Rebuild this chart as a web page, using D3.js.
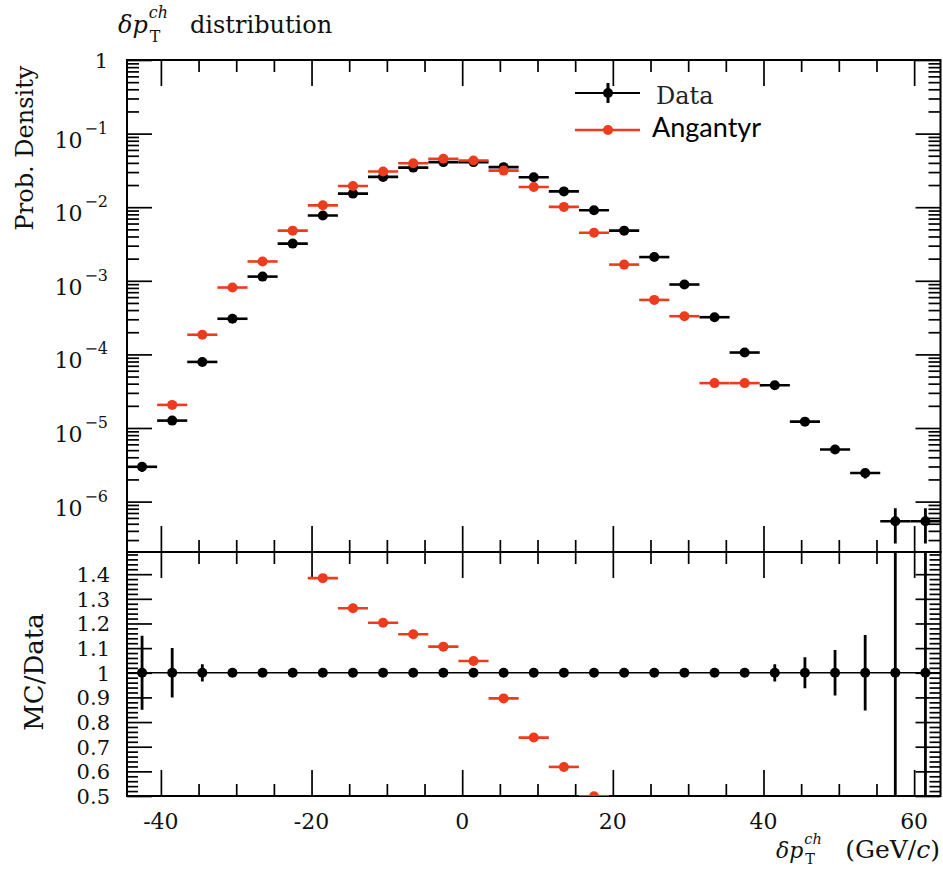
<!DOCTYPE html>
<html><head><meta charset="utf-8">
<script src="https://cdn.jsdelivr.net/npm/d3@7"></script>
<style>body{margin:0;background:#fff} svg{display:block}</style>
</head><body>
<svg id="c" width="943" height="870"></svg>
<script>
// ---------- data ----------
const binCenters = [-42.5,-38.5,-34.5,-30.5,-26.5,-22.5,-18.5,-14.5,-10.5,-6.5,-2.5,1.5,5.5,9.5,13.5,17.5,21.5,25.5,29.5,33.5,37.5,41.5,45.5,49.5,53.5,57.5,61.5];
const binHalfWidth = 2;
const dataValues = [2.97e-6,1.26e-5,7.9e-5,3.05e-4,1.14e-3,3.2e-3,7.7e-3,0.0153,0.0258,0.0345,0.041,0.041,0.035,0.0255,0.0164,0.0091,4.8e-3,2.1e-3,8.9e-4,3.2e-4,1.06e-4,3.8e-5,1.22e-5,5.1e-6,2.44e-6,5.4e-7,5.4e-7];
const dataRelErr = [0.15,0.10,0.035,0.012,0.008,0.006,0.005,0.004,0.004,0.004,0.004,0.004,0.004,0.004,0.004,0.005,0.006,0.008,0.01,0.012,0.015,0.035,0.063,0.092,0.153,0.5,0.5];
const mcValues = [null,2.06e-5,1.85e-4,8.1e-4,1.83e-3,4.8e-3,0.0106,0.0194,0.0305,0.0395,0.0455,0.043,0.0314,0.0188,0.0101,4.5e-3,1.66e-3,5.5e-4,3.3e-4,4.07e-5,4.07e-5,null,null,null,null,null,null];
const ratioValues = [null,null,null,null,null,null,1.384,1.262,1.203,1.156,1.106,1.048,0.896,0.737,0.618,0.499,null,null,null,null,null,null,null,null,null,null,null];
const xMajorTicks = [-40,-20,0,20,40,60];
const xTickLabels = ["-40","-20","0","20","40","60"];
const yDecadeExps = [0,-1,-2,-3,-4,-5,-6];
const yDecadeLabels = ["1","10|−1","10|−2","10|−3","10|−4","10|−5","10|−6"];
const ratioMajorTicks = [0.5,0.6,0.7,0.8,0.9,1.0,1.1,1.2,1.3,1.4];
const ratioTickLabels = ["0.5","0.6","0.7","0.8","0.9","1","1.1","1.2","1.3","1.4"];
const seriesNames = ["Data","Angantyr"];

// ---------- layout ----------
const L = 127, R = 940.5, T = 60, M = 552, B = 796;
const RED = "#ec3b1d";
const SERIF = "DejaVu Serif";
const svg = d3.select("#c");

const x = d3.scaleLinear().domain([-44.5, 63.5]).range([L, R]);
const y = d3.scaleLog().domain([Math.pow(10, -6.685), 1]).range([M, T]);
const yr = d3.scaleLinear().domain([0.5, 1.49]).range([B, M]);

const defs = svg.append("defs");
defs.append("clipPath").attr("id","clipMain").append("rect").attr("x",L).attr("y",T).attr("width",R-L).attr("height",M-T);
defs.append("clipPath").attr("id","clipRatio").append("rect").attr("x",L).attr("y",M).attr("width",R-L).attr("height",B-M);

// ---------- ticks ----------
const gAx = svg.append("g");
function tickAxis(axisFn, scale, vals, size, tr) {
  gAx.append("g").attr("transform", tr)
    .call(axisFn(scale).tickValues(vals).tickSize(size).tickFormat(""))
    .call(g => g.select(".domain").remove())
    .call(g => g.selectAll("line").attr("stroke","#000").attr("stroke-width",1.7));
}
const xMinor = d3.range(-40, 61, 5).filter(v => v % 20 !== 0);
const logMajor = yDecadeExps.map(e => Math.pow(10, e));
const logMinor = [];
for (let k = 1; k <= 7; k++) for (let m = 2; m <= 9; m++) {
  const v = m * Math.pow(10, -k);
  if (v >= y.domain()[0]) logMinor.push(v);
}
const ratioMinor = d3.range(25, 75).map(i => i / 50).filter(v => Math.abs(v*10 - Math.round(v*10)) > 1e-6);

// main panel
tickAxis(d3.axisRight, y, logMajor, 25, `translate(${L},0)`);
tickAxis(d3.axisRight, y, logMinor, 12, `translate(${L},0)`);
tickAxis(d3.axisLeft, y, logMajor, 25, `translate(${R},0)`);
tickAxis(d3.axisLeft, y, logMinor, 12, `translate(${R},0)`);
tickAxis(d3.axisBottom, x, xMajorTicks, 26, `translate(0,${T})`);
tickAxis(d3.axisBottom, x, xMinor, 12, `translate(0,${T})`);
tickAxis(d3.axisTop, x, xMajorTicks, 26, `translate(0,${M})`);
tickAxis(d3.axisTop, x, xMinor, 12, `translate(0,${M})`);
// ratio panel
tickAxis(d3.axisRight, yr, ratioMajorTicks, 25, `translate(${L},0)`);
tickAxis(d3.axisRight, yr, ratioMinor, 11, `translate(${L},0)`);
tickAxis(d3.axisLeft, yr, ratioMajorTicks, 25, `translate(${R},0)`);
tickAxis(d3.axisLeft, yr, ratioMinor, 11, `translate(${R},0)`);
tickAxis(d3.axisBottom, x, xMajorTicks, 26, `translate(0,${M})`);
tickAxis(d3.axisBottom, x, xMinor, 12, `translate(0,${M})`);
tickAxis(d3.axisTop, x, xMajorTicks, 26, `translate(0,${B})`);
tickAxis(d3.axisTop, x, xMinor, 12, `translate(0,${B})`);

// frames
svg.append("rect").attr("x",L).attr("y",T).attr("width",R-L).attr("height",M-T).attr("fill","none").attr("stroke","#000").attr("stroke-width",2);
svg.append("rect").attr("x",L).attr("y",M).attr("width",R-L).attr("height",B-M).attr("fill","none").attr("stroke","#000").attr("stroke-width",2);

// ---------- tick labels ----------
const lab = svg.append("g").attr("font-family", SERIF).attr("fill","#111");
yDecadeExps.forEach((e, i) => {
  const parts = yDecadeLabels[i].split("|");
  const yy = y(Math.pow(10, e));
  const t = lab.append("text").attr("text-anchor","end").attr("x", 108);
  if (parts.length === 1) {
    t.attr("y", yy + 8).attr("font-size", 21).text(parts[0]);
  } else {
    t.attr("y", yy + 14);
    t.append("tspan").attr("font-size", 22).text(parts[0]);
    t.append("tspan").attr("font-size", 16).attr("dx", 2).attr("dy", -14).text(parts[1]);
  }
});
ratioMajorTicks.forEach((v, i) => {
  lab.append("text").attr("text-anchor","end").attr("x", 110).attr("y", yr(v) + 8)
    .attr("font-size", 21).text(ratioTickLabels[i]);
});
xMajorTicks.forEach((v, i) => {
  lab.append("text").attr("text-anchor","middle").attr("x", x(v)).attr("y", 829)
    .attr("font-size", 22).text(xTickLabels[i]);
});

// ---------- δp_T^ch helper ----------
function dpT(g, x0, yb, fs, subDrop) {
  const t1 = g.append("text").attr("x", x0).attr("y", yb).attr("font-family", SERIF)
    .attr("font-style","italic").attr("font-size", fs).attr("fill","#111").text("δp");
  const w = t1.node().getComputedTextLength();
  const sfs = fs * 0.66;
  g.append("text").attr("x", x0 + w + 1).attr("y", yb - fs * 0.62).attr("font-family", SERIF)
    .attr("font-style","italic").attr("font-size", sfs).attr("fill","#111").text("ch");
  g.append("text").attr("x", x0 + w + 2).attr("y", yb + subDrop).attr("font-family", SERIF)
    .attr("font-size", sfs).attr("fill","#111").text("T");
}
// title
dpT(svg, 118, 33, 24, 8.5);
svg.append("text").attr("x", 190).attr("y", 33).attr("font-family", SERIF).attr("font-size", 24)
  .attr("fill","#111").text("distribution");
// x label
const xl = svg.append("text").attr("text-anchor","end").attr("x", 940).attr("y", 858)
  .attr("font-family", SERIF).attr("font-size", 25).attr("fill","#111");
xl.append("tspan").text("(GeV/");
xl.append("tspan").attr("font-style","italic").text("c");
xl.append("tspan").text(")");
dpT(svg, 776, 858, 22, 6);
// y labels
svg.append("text").attr("transform","translate(33,148) rotate(-90)").attr("text-anchor","middle")
  .attr("font-family", SERIF).attr("font-size", 24).attr("fill","#111").text("Prob. Density");
svg.append("text").attr("transform","translate(43,672) rotate(-90)").attr("text-anchor","middle")
  .attr("font-family", SERIF).attr("font-size", 26).attr("fill","#111").text("MC/Data");

// ---------- main panel marks ----------
const dataPts = binCenters.map((c, i) => ({c, v: dataValues[i], e: dataRelErr[i]}));
const mcPts = binCenters.map((c, i) => ({c, v: mcValues[i]})).filter(d => d.v != null);
const gm = svg.append("g").attr("clip-path","url(#clipMain)");
gm.selectAll(".dh").data(dataPts).join("line")
  .attr("x1", d => x(d.c - binHalfWidth)).attr("x2", d => x(d.c + binHalfWidth))
  .attr("y1", d => y(d.v)).attr("y2", d => y(d.v)).attr("stroke","#000").attr("stroke-width",2.6);
gm.selectAll(".dv").data(dataPts).join("line")
  .attr("x1", d => x(d.c)).attr("x2", d => x(d.c))
  .attr("y1", d => y(d.v * (1 + d.e))).attr("y2", d => y(d.v * (1 - d.e))).attr("stroke","#000").attr("stroke-width",2.8);
gm.selectAll(".dp").data(dataPts).join("circle")
  .attr("cx", d => x(d.c)).attr("cy", d => y(d.v)).attr("r", 5).attr("fill","#000");
gm.selectAll(".mh").data(mcPts).join("line")
  .attr("x1", d => x(d.c - binHalfWidth)).attr("x2", d => x(d.c + binHalfWidth))
  .attr("y1", d => y(d.v)).attr("y2", d => y(d.v)).attr("stroke",RED).attr("stroke-width",2.6);
gm.selectAll(".mp").data(mcPts).join("circle")
  .attr("cx", d => x(d.c)).attr("cy", d => y(d.v)).attr("r", 5).attr("fill",RED);

// ---------- ratio panel marks ----------
const gr = svg.append("g").attr("clip-path","url(#clipRatio)");
gr.append("line").attr("x1", L).attr("x2", R).attr("y1", yr(1)).attr("y2", yr(1))
  .attr("stroke","#000").attr("stroke-width",1.6);
gr.selectAll(".rv").data(dataPts).join("line")
  .attr("x1", d => x(d.c)).attr("x2", d => x(d.c))
  .attr("y1", d => yr(1 + d.e)).attr("y2", d => yr(1 - d.e)).attr("stroke","#000").attr("stroke-width",2.8);
gr.selectAll(".rp").data(dataPts).join("circle")
  .attr("cx", d => x(d.c)).attr("cy", yr(1)).attr("r", 5).attr("fill","#000");
const ratioPts = binCenters.map((c, i) => ({c, v: ratioValues[i]})).filter(d => d.v != null);
gr.selectAll(".rmh").data(ratioPts).join("line")
  .attr("x1", d => x(d.c - binHalfWidth)).attr("x2", d => x(d.c + binHalfWidth))
  .attr("y1", d => yr(d.v)).attr("y2", d => yr(d.v)).attr("stroke",RED).attr("stroke-width",2.6);
gr.selectAll(".rmp").data(ratioPts).join("circle")
  .attr("cx", d => x(d.c)).attr("cy", d => yr(d.v)).attr("r", 5).attr("fill",RED);

// ---------- legend ----------
const lg = svg.append("g");
lg.append("line").attr("x1",575).attr("x2",640).attr("y1",93).attr("y2",93).attr("stroke","#000").attr("stroke-width",2);
lg.append("line").attr("x1",608).attr("x2",608).attr("y1",83).attr("y2",103).attr("stroke","#000").attr("stroke-width",3);
lg.append("circle").attr("cx",608).attr("cy",93).attr("r",5).attr("fill","#000");
lg.append("text").attr("x",656).attr("y",104).attr("font-family",SERIF).attr("font-size",24).attr("fill","#222").text(seriesNames[0]);
lg.append("line").attr("x1",575).attr("x2",640).attr("y1",130).attr("y2",130).attr("stroke",RED).attr("stroke-width",2.6);
lg.append("circle").attr("cx",608).attr("cy",130).attr("r",5).attr("fill",RED);
lg.append("text").attr("x",652).attr("y",137).attr("font-family","Lato").attr("font-size",27).attr("fill","#000").text(seriesNames[1]);
</script>
</body></html>
